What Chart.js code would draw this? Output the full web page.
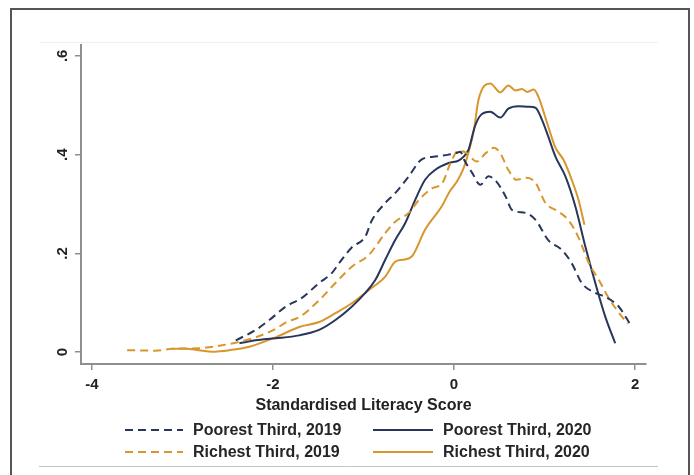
<!DOCTYPE html>
<html>
<head>
<meta charset="utf-8">
<script src="https://cdn.jsdelivr.net/npm/chart.js@4/dist/chart.umd.min.js"></script>
<style>
  html, body { margin: 0; padding: 0; background: #fff; }
  #wrap { width: 694px; height: 475px; position: relative; }
</style>
</head>
<body>
<div id="wrap"><canvas id="c" width="694" height="475"></canvas></div>
<script>
// Kernel density estimates of standardised literacy scores
const poorest2019X = [-2.41,-2.19,-2.04,-1.86,-1.68,-1.49,-1.35,-1.27,-1.13,-0.98,-0.91,-0.76,-0.65,-0.50,-0.36,-0.21,-0.06,0.02,0.07,0.11,0.20,0.29,0.38,0.47,0.57,0.64,0.79,0.90,1.04,1.19,1.30,1.41,1.56,1.67,1.82,1.95];
const poorest2019Y = [0.024,0.045,0.065,0.092,0.110,0.140,0.160,0.180,0.212,0.234,0.266,0.302,0.322,0.356,0.390,0.396,0.400,0.403,0.406,0.390,0.363,0.339,0.356,0.345,0.315,0.288,0.282,0.268,0.227,0.207,0.180,0.140,0.120,0.112,0.092,0.055];

const richest2019X = [-3.61,-3.30,-3.11,-2.82,-2.56,-2.37,-2.19,-1.97,-1.86,-1.70,-1.49,-1.31,-1.13,-0.94,-0.76,-0.65,-0.50,-0.39,-0.24,-0.13,-0.04,0.05,0.14,0.25,0.35,0.44,0.51,0.60,0.69,0.80,0.90,1.01,1.15,1.26,1.37,1.49,1.60,1.70,1.84,1.92];
const richest2019Y = [0.004,0.003,0.007,0.008,0.014,0.021,0.030,0.047,0.060,0.072,0.105,0.140,0.173,0.197,0.241,0.264,0.282,0.308,0.332,0.342,0.383,0.408,0.403,0.386,0.403,0.414,0.403,0.369,0.349,0.353,0.343,0.302,0.285,0.268,0.234,0.180,0.146,0.112,0.075,0.058];

const poorest2020X = [-2.37,-2.19,-1.97,-1.71,-1.49,-1.31,-1.13,-0.98,-0.87,-0.76,-0.65,-0.54,-0.43,-0.32,-0.21,-0.06,0.05,0.10,0.16,0.23,0.30,0.40,0.51,0.60,0.71,0.82,0.90,0.97,1.04,1.12,1.23,1.34,1.45,1.56,1.67,1.78];
const poorest2020Y = [0.018,0.024,0.028,0.034,0.045,0.065,0.092,0.120,0.146,0.187,0.227,0.261,0.308,0.349,0.369,0.383,0.388,0.395,0.410,0.457,0.481,0.487,0.475,0.493,0.498,0.497,0.495,0.471,0.437,0.396,0.356,0.295,0.214,0.140,0.072,0.018];

const richest2020X = [-3.11,-2.96,-2.82,-2.67,-2.48,-2.26,-1.97,-1.71,-1.49,-1.31,-1.13,-0.94,-0.76,-0.65,-0.57,-0.47,-0.32,-0.13,-0.05,0.03,0.10,0.16,0.22,0.27,0.40,0.51,0.60,0.68,0.75,0.81,0.88,0.93,1.04,1.12,1.21,1.30,1.375,1.44];
const richest2020Y = [0.007,0.007,0.004,0.001,0.004,0.011,0.030,0.051,0.061,0.079,0.099,0.126,0.153,0.183,0.187,0.193,0.248,0.297,0.325,0.345,0.370,0.405,0.450,0.511,0.544,0.526,0.540,0.530,0.533,0.527,0.532,0.518,0.457,0.414,0.389,0.349,0.308,0.258];

const xTicks = [-4, -2, 0, 2];
const yTicks = [0, 0.2, 0.4, 0.6];

const NAVY = '#27365a';
const GOLD = '#d8962c';
const DASH = [8, 5];

function pairs(xs, ys) { return xs.map((x, i) => ({ x: x, y: ys[i] })); }
function yLabel(v) { return v === 0 ? '0' : String(Math.round(v * 10) / 10).replace(/^0/, ''); }

const seriesDefs = [
  { label: 'Poorest Third, 2019', xs: poorest2019X, ys: poorest2019Y, color: NAVY, dash: DASH },
  { label: 'Richest Third, 2019', xs: richest2019X, ys: richest2019Y, color: GOLD, dash: DASH },
  { label: 'Poorest Third, 2020', xs: poorest2020X, ys: poorest2020Y, color: NAVY, dash: [] },
  { label: 'Richest Third, 2020', xs: richest2020X, ys: richest2020Y, color: GOLD, dash: [] }
];

const FONT = '"Liberation Sans", Arial, sans-serif';

// Graph frame and inner region lines
const framePlugin = {
  id: 'frame',
  beforeDraw(chart) {
    const ctx = chart.ctx;
    ctx.save();
    ctx.fillStyle = '#fff';
    ctx.fillRect(0, 0, chart.width, chart.height);
    ctx.strokeStyle = '#555';
    ctx.lineWidth = 2;
    ctx.strokeRect(11, 9, 678, 480);
    ctx.strokeStyle = '#f0f0f0';
    ctx.lineWidth = 1;
    ctx.beginPath(); ctx.moveTo(39, 42.5); ctx.lineTo(658, 42.5); ctx.stroke();
    ctx.strokeStyle = '#c4c4c4';
    ctx.beginPath(); ctx.moveTo(39, 466.5); ctx.lineTo(658, 466.5); ctx.stroke();
    ctx.restore();
  }
};

// Rotated y tick labels, placed from the y scale
const yLabelPlugin = {
  id: 'yLabels',
  afterDraw(chart) {
    const ctx = chart.ctx;
    const s = chart.scales.y;
    ctx.save();
    ctx.fillStyle = '#222';
    ctx.font = 'bold 15px ' + FONT;
    ctx.textAlign = 'center';
    ctx.textBaseline = 'middle';
    yTicks.forEach(v => {
      const py = s.getPixelForValue(v);
      ctx.save();
      ctx.translate(63, py);
      ctx.rotate(-Math.PI / 2);
      ctx.fillText(yLabel(v), 0, 0);
      ctx.restore();
    });
    ctx.restore();
  }
};

// Two-column legend below the axis title
const legendPlugin = {
  id: 'keyLegend',
  afterDraw(chart) {
    const ctx = chart.ctx;
    const cols = [{ x0: 125, x1: 183, tx: 193 }, { x0: 373, x1: 433, tx: 443 }];
    const rows = [430, 452];
    ctx.save();
    ctx.font = 'bold 16px ' + FONT;
    ctx.textBaseline = 'middle';
    ctx.textAlign = 'left';
    chart.data.datasets.forEach((ds, i) => {
      const c = cols[Math.floor(i / 2)];
      const y = rows[i % 2];
      ctx.strokeStyle = ds.borderColor;
      ctx.lineWidth = 2;
      ctx.setLineDash(ds.borderDash);
      ctx.beginPath(); ctx.moveTo(c.x0, y); ctx.lineTo(c.x1, y); ctx.stroke();
      ctx.setLineDash([]);
      ctx.fillStyle = '#262626';
      ctx.fillText(ds.label, c.tx, y + 1);
    });
    ctx.restore();
  }
};

new Chart(document.getElementById('c'), {
  type: 'line',
  data: {
    datasets: seriesDefs.map(s => ({
      label: s.label,
      data: pairs(s.xs, s.ys),
      borderColor: s.color,
      borderDash: s.dash,
      borderWidth: 2,
      pointRadius: 0,
      fill: false,
      cubicInterpolationMode: 'monotone'
    }))
  },
  options: {
    responsive: false,
    animation: false,
    devicePixelRatio: 1,
    layout: { padding: { left: 0, right: 48, top: 45, bottom: 56 } },
    plugins: { legend: { display: false }, tooltip: { enabled: false } },
    scales: {
      x: {
        type: 'linear',
        min: -4.12,
        max: 2.12,
        afterBuildTicks: s => { s.ticks = xTicks.map(v => ({ value: v })); },
        afterFit: s => { s.height = 55; },
        ticks: { color: '#222', font: { family: FONT, size: 15, weight: 'bold' }, padding: 6, maxRotation: 0 },
        grid: { drawOnChartArea: false, drawTicks: true, tickLength: 6, color: '#8f8f8f', lineWidth: 1.5 },
        border: { display: true, color: '#8f8f8f', width: 2 },
        title: { display: true, text: 'Standardised Literacy Score', color: '#222',
                 font: { family: FONT, size: 16, weight: 'bold' }, padding: { top: 0, bottom: 4 } }
      },
      y: {
        type: 'linear',
        min: -0.024,
        max: 0.622,
        afterBuildTicks: s => { s.ticks = yTicks.map(v => ({ value: v })); },
        afterFit: s => { s.width = 81; },
        ticks: { display: false },
        grid: { drawOnChartArea: false, drawTicks: true, tickLength: 6, color: '#8f8f8f', lineWidth: 1.5 },
        border: { display: true, color: '#8f8f8f', width: 2 }
      }
    }
  },
  plugins: [framePlugin, yLabelPlugin, legendPlugin]
});
</script>
</body>
</html>
